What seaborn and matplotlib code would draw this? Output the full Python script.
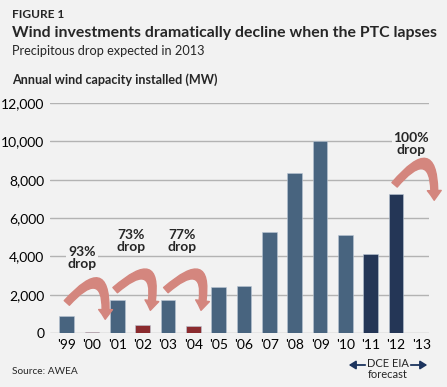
import matplotlib
matplotlib.use("Agg")
import matplotlib.pyplot as plt
from matplotlib.patches import FancyArrowPatch
import pandas as pd
import seaborn as sns

# Data
years = ["'99", "'00", "'01", "'02", "'03", "'04", "'05", "'06",
         "'07", "'08", "'09", "'10", "'11", "'12", "'13"]
capacity_mw = [880, 67, 1720, 410, 1720, 390, 2400, 2460,
               5250, 8360, 10000, 5130, 4120, 7250, 0]
bar_group = ["hist", "lapse", "hist", "lapse", "hist", "lapse", "hist", "hist",
             "hist", "hist", "hist", "hist", "forecast", "forecast", "forecast"]
drop_labels = ["93%\ndrop", "73%\ndrop", "77%\ndrop", "100%\ndrop"]
# arrow tail / head positions (bar index, MW) for the drop arrows
arrow_tails = [(-0.07, 1460), (1.83, 2140), (3.83, 2140), (12.87, 7620)]
arrow_heads = [(1.51, 570), (3.28, 1040), (5.28, 1040), (14.5, 6780)]
label_pos = [(0.6, 3900), (2.55, 4800), (4.55, 4800), (13.6, 9850)]

bg = "#f2f2f2"
palette = {"hist": "#3f6488", "lapse": "#9b1b1f", "forecast": "#1c345e"}
arrow_col = "#d4867e"

df = pd.DataFrame({"year": years, "mw": capacity_mw, "group": bar_group})

sns.set_style("white")
plt.rcParams["font.family"] = ["Lato", "DejaVu Sans"]

fig = plt.figure(figsize=(4.47, 3.87), dpi=100, facecolor=bg)
ax = fig.add_axes([50 / 447, 54 / 387, 379 / 447, 230 / 387], facecolor=bg)

sns.barplot(data=df, x="year", y="mw", hue="group", palette=palette,
            order=years, dodge=False, width=0.58, legend=False, ax=ax,
            edgecolor="#b9c6d4", linewidth=0.4, zorder=3)

ax.set_xlim(-0.66, 14.3)
ax.set_ylim(0, 12000)
ax.set_yticks(range(0, 12001, 2000))
ax.set_yticklabels([f"{v:,}" for v in range(0, 12001, 2000)])
ax.grid(axis="y", color="#b3b3b3", linewidth=1, zorder=0)
ax.grid(axis="x", visible=False)
for s in ax.spines.values():
    s.set_visible(False)
ax.set_xlabel("")
ax.set_ylabel("")
ax.tick_params(axis="both", length=0, labelsize=10, colors="black", pad=4)

# curved arrows showing the drops
for tail, head in zip(arrow_tails, arrow_heads):
    arr = FancyArrowPatch(tail, head, connectionstyle="arc3,rad=-1.5",
                          arrowstyle="simple,head_length=7,head_width=10,tail_width=5",
                          color=arrow_col, zorder=4, clip_on=False)
    ax.add_patch(arr)

for txt, (x, y) in zip(drop_labels, label_pos):
    ax.text(x, y, txt, ha="center", va="center", fontsize=10, fontweight="bold",
            linespacing=0.95, zorder=5,
            bbox=dict(facecolor=bg, edgecolor="none", pad=1))

# titles
fig.text(12 / 447, 1 - 15 / 387, "FIGURE 1", fontsize=8.6, fontweight="bold", va="center")
fig.text(12 / 447, 1 - 33 / 387, "Wind investments dramatically decline when the PTC lapses",
         fontsize=11.4, fontweight="bold", va="center")
fig.text(12 / 447, 1 - 51 / 387, "Precipitous drop expected in 2013", fontsize=9.2, va="center")
fig.text(12 / 447, 1 - 80 / 387, "Annual wind capacity installed (MW)", fontsize=9.1,
         fontweight="bold", va="center")
fig.text(12 / 447, 1 - 372 / 387, "Source: AWEA", fontsize=7.3, va="center")

# forecast marker
fig.text(388 / 447, 1 - 369 / 387, "DCE EIA\nforecast", fontsize=8, ha="center",
         va="center", linespacing=1.0)
fig.add_artist(FancyArrowPatch((368 / 447, 1 - 365 / 387), (346 / 447, 1 - 365 / 387),
                               transform=fig.transFigure, arrowstyle="-|>,head_length=4,head_width=2.5",
                               color="#1c345e", linewidth=1.3))
fig.add_artist(FancyArrowPatch((408 / 447, 1 - 365 / 387), (430 / 447, 1 - 365 / 387),
                               transform=fig.transFigure, arrowstyle="-|>,head_length=4,head_width=2.5",
                               color="#1c345e", linewidth=1.3))

fig.savefig("out.png", dpi=100, facecolor=bg)
